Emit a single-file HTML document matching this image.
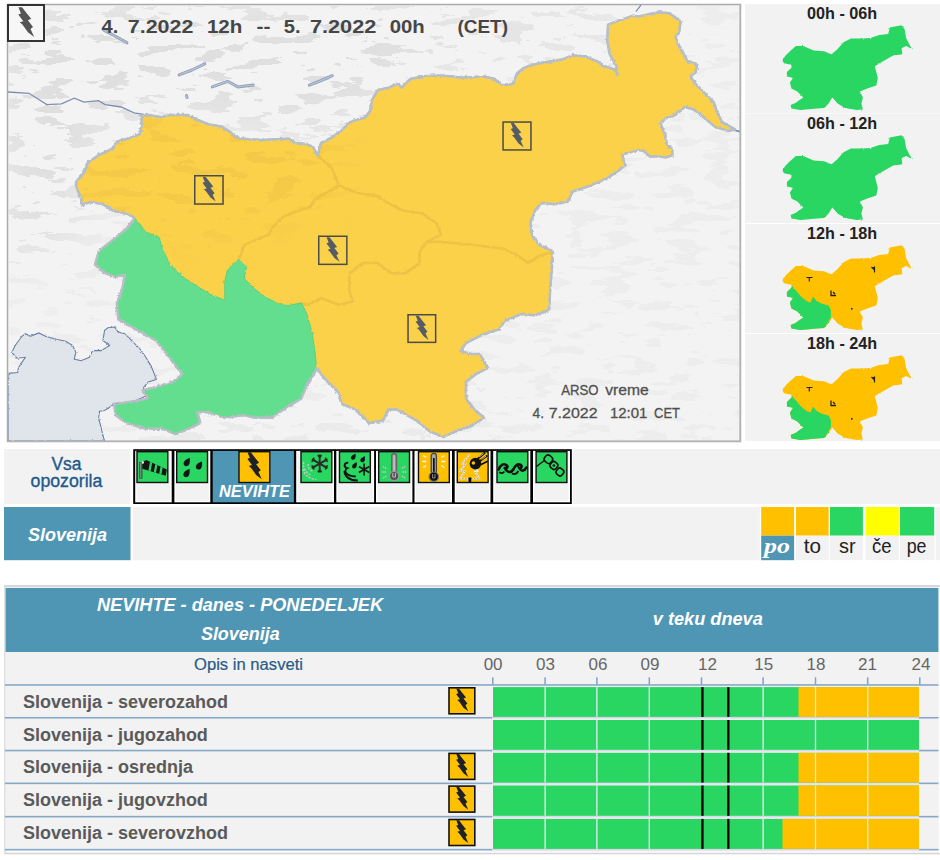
<!DOCTYPE html>
<html><head><meta charset="utf-8">
<style>
*{margin:0;padding:0}
html,body{width:940px;height:860px;background:#fff;overflow:hidden;font-family:"Liberation Sans",sans-serif}
svg{position:absolute;left:0;top:0;display:block}
</style></head><body>
<svg width="940" height="860" viewBox="0 0 940 860">
<defs><clipPath id="mc"><rect x="8" y="5" width="732" height="436"/></clipPath></defs>
<filter id="relief" x="0" y="0" width="940" height="450" filterUnits="userSpaceOnUse" color-interpolation-filters="sRGB">
  <feTurbulence type="fractalNoise" baseFrequency="0.03 0.09" numOctaves="4" seed="11" result="n"/>
  <feColorMatrix in="n" type="matrix" values="0 0 0 0 0.875  0 0 0 0 0.875  0 0 0 0 0.875  3.2 0 0 0 -1.4"/>
  <feComponentTransfer><feFuncA type="discrete" tableValues="0 1"/></feComponentTransfer>
</filter>
<filter id="mblur" x="-50%" y="-50%" width="200%" height="200%"><feGaussianBlur stdDeviation="22"/></filter>
<mask id="rm" maskUnits="userSpaceOnUse" x="0" y="0" width="940" height="450">
 <rect x="0" y="0" width="940" height="450" fill="#4a4a4a"/>
 <g filter="url(#mblur)">
  <polygon points="0,0 430,0 445,60 330,135 150,112 90,150 70,235 0,250" fill="#fff"/>
  <polygon points="430,0 620,0 610,55 450,78" fill="#bbb"/>
  <polygon points="150,425 480,425 480,450 150,450" fill="#999"/>
  <polygon points="0,250 70,235 60,330 0,330" fill="#333"/>
 </g>
</mask>
<mask id="rm2" maskUnits="userSpaceOnUse" x="0" y="0" width="940" height="450">
 <g filter="url(#mblur)"><polygon points="60,100 340,100 340,200 240,240 60,220" fill="#fff"/></g>
</mask>
<filter id="relief2" x="0" y="0" width="940" height="450" filterUnits="userSpaceOnUse" color-interpolation-filters="sRGB">
  <feTurbulence type="fractalNoise" baseFrequency="0.03 0.09" numOctaves="4" seed="5" result="n"/>
  <feColorMatrix in="n" type="matrix" values="0 0 0 0 0.90  0 0 0 0 0.74  0 0 0 0 0.25  3.2 0 0 0 -1.45"/>
  <feComponentTransfer><feFuncA type="discrete" tableValues="0 0.35"/></feComponentTransfer>
</filter>
<rect x="7.5" y="4.5" width="733" height="437" fill="#f3f3f3" stroke="#ababab" stroke-width="1.5"/>
<g clip-path="url(#mc)"><g mask="url(#rm)"><rect x="8" y="5" width="732" height="436" filter="url(#relief)"/></g></g>
<g clip-path="url(#mc)">
<filter id="jag2" x="0" y="0" width="940" height="450" filterUnits="userSpaceOnUse"><feTurbulence type="fractalNoise" baseFrequency="0.5" numOctaves="1" seed="8" result="t"/><feDisplacementMap in="SourceGraphic" in2="t" scale="2.5" xChannelSelector="R" yChannelSelector="G"/></filter>
<polygon points="8,373.4 17.7,372.5 18.5,367.5 25.3,357.3 16.9,358.2 11.8,352.3 15.2,345.5 21.9,336.3 25.3,333.7 30.4,336.3 38.8,332.9 45.5,336.3 54,338.8 65.8,341.3 72.5,345.5 75.9,352.3 74.2,359 81,360.7 89.4,357.3 92.7,350.6 101.2,350.6 109.6,345.5 102.9,340.5 104.6,330.4 107.9,327.8 114.7,327 118,332 124.8,333.7 133.2,342.2 140,349 145,356 151,365.7 156.5,379.4 148.3,382 143,388 146,396 134.6,401 114.2,404 104.6,410.5 99.5,411.3 98.6,418 101.2,428.2 102.9,435 104.6,441 8,441" fill="#dfe5ea" stroke="#6e80a0" stroke-width="1.1" filter="url(#jag2)"/>
<polyline points="8,92 29,93.3 46.8,104.6 61.4,103.8 74.3,98.2 84,102.2 98.6,100.6 105,104.6 121.2,107 134,112.8 143.8,114.4" fill="none" stroke="#7f90ae" stroke-width="1.3"/>
<polyline points="636,11.5 641,5" fill="none" stroke="#7080a8" stroke-width="1.2"/>
<polyline points="733,130 740,131.5" fill="none" stroke="#6a7aa0" stroke-width="1.5"/>
<polyline points="103.8,30.2 115,36 126.8,42.5" fill="none" stroke="#8d9db6" stroke-width="3" stroke-linecap="round" stroke-linejoin="round"/>
<polyline points="103.8,30.2 115,36 126.8,42.5" fill="none" stroke="#b4c2d4" stroke-width="1.4" stroke-linecap="round" stroke-linejoin="round"/>
<polyline points="179.1,74.9 192,70 204.7,63.9" fill="none" stroke="#8d9db6" stroke-width="3" stroke-linecap="round" stroke-linejoin="round"/>
<polyline points="179.1,74.9 192,70 204.7,63.9" fill="none" stroke="#b4c2d4" stroke-width="1.4" stroke-linecap="round" stroke-linejoin="round"/>
<polyline points="212.3,86.9 227.6,81.3 237.9,86.9 253.2,85.1" fill="none" stroke="#8d9db6" stroke-width="3" stroke-linecap="round" stroke-linejoin="round"/>
<polyline points="212.3,86.9 227.6,81.3 237.9,86.9 253.2,85.1" fill="none" stroke="#b4c2d4" stroke-width="1.4" stroke-linecap="round" stroke-linejoin="round"/>
<polyline points="309.3,85.1 320,81 332.3,75.7" fill="none" stroke="#8d9db6" stroke-width="3" stroke-linecap="round" stroke-linejoin="round"/>
<polyline points="309.3,85.1 320,81 332.3,75.7" fill="none" stroke="#b4c2d4" stroke-width="1.4" stroke-linecap="round" stroke-linejoin="round"/>
<polyline points="186.5,95.5 187,97.5" fill="none" stroke="#8d9db6" stroke-width="3" stroke-linecap="round" stroke-linejoin="round"/>
<polyline points="186.5,95.5 187,97.5" fill="none" stroke="#b4c2d4" stroke-width="1.4" stroke-linecap="round" stroke-linejoin="round"/>
<filter id="jag" x="0" y="0" width="940" height="450" filterUnits="userSpaceOnUse"><feTurbulence type="fractalNoise" baseFrequency="0.4" numOctaves="1" seed="3" result="t"/><feDisplacementMap in="SourceGraphic" in2="t" scale="3.2" xChannelSelector="R" yChannelSelector="G"/></filter>
<g filter="url(#jag)">
<polygon points="141,116 149,115 160,117 170.6,115 187.7,115 198,120 209,124.5 221.7,126.6 230,132 236.6,138 247,139 261,140 289,138.7 295,143 306,144 313,147 317.7,155.7 321,143 331.5,137.7 342,130 350.6,121.7 365.5,117.4 370,111 372,100 378,90 389,87.7 397.4,83.4 401.7,87.7 410,79 425,76 442.8,75.5 462,77.7 483,76.6 494,78.7 502,85 513,84 517,73.4 523.6,68 536.4,63.8 549,61.7 562,59.6 572.6,55.3 585,56.4 598,61.7 603,66 614.7,69.2 617.2,74.2 616.4,66 609.8,54.4 607.3,41.2 608,24.7 616.4,21.4 626.3,18.1 632.9,15.7 639.5,16.5 649.4,14 659.2,12.4 669.1,13.2 674,16.5 680.7,21.4 679,33 675.7,36.3 677.4,42.9 682.3,51.1 687.3,61 697.2,64.3 695.5,72.5 690.6,75.8 695.5,84 705.4,94 713.7,102.2 717,112.1 722,122 735,129.4 728.5,131 715.3,127 705.4,118.7 700,113.8 693.6,109.6 685.1,106.4 680.9,110.6 673.4,116 666,118.1 660.6,123.4 661.7,126.6 664.9,134 667,144.7 672.3,149 672.3,155.3 666,157.4 659.6,156.4 650,156.4 643.6,151 639.4,150 632,152.1 622.3,154.3 623.4,159.6 625.5,164.9 619.1,170.2 612.8,174.5 606.4,178.7 588,186.4 572.8,191.5 567.6,201.7 554.9,204.2 542,203 535.7,209.4 530.6,222 532,235 539.6,245 552.3,251 552,268 550.5,285 549,309.8 535,315.3 521.3,314 504.7,320.9 499.2,329.2 482.6,334.7 466,343 460.4,351.3 471.5,354 479.8,354 488,368 477,373.4 466,381.7 466,398.3 474.3,409.4 484,417.7 471.5,426 455,431.5 443.8,437 430,431.5 416.2,420.4 396.8,409.4 388.5,409.4 383,420.4 369,423.2 363.6,417.7 355.3,409.4 341.5,403.8 338.7,392.8 325,379 316.6,368 315,372 306.8,384.9 301.3,398.5 287.7,406.7 271.3,417.7 254.9,417.7 244,415 224.8,417.7 208.4,412.2 197.5,412.2 200.2,423.1 189.3,428.6 175.6,434 162,428.6 145.6,428.6 126.4,423.1 115.5,415 114.2,404 134.6,401.3 148.3,398.5 142.8,390.3 153.8,387.6 172.9,382 182.5,374 175.6,365.7 167.4,354.8 156.5,341 142.8,333 127.8,324.8 118.3,319.3 116.9,302.9 122.3,289.2 125,274.2 115.5,277 104.6,272.8 95,264.6 99,251 112.8,240 126.4,229 134.6,218.2 132,216 124,213 113,210.6 102.5,204 90,202 82,205 81,198 77,189 76,182 84.5,172 87.7,162.8 99,155 112,149 117.4,141.5 130,138 140,134 142,123" fill="#fbd14a" stroke="#bac0c8" stroke-width="2.5" stroke-linejoin="round"/>
<polyline points="317.7,155.7 331.8,168 338.8,185.6 356.4,192.7 377.5,196.2 388,203.2 402,210.2 423,213.7 437.2,224.3 440.7,234.8 426.6,241.8 419.6,252.4 419.6,262.9 405.6,273.4 391.5,273.4 377.5,262.9 363.4,262.9 349.4,273.4 349.4,291 352.9,301.5 338.8,305 321.3,298 307.2,305 301.3,302.9" fill="none" stroke="#eec344" stroke-width="2.6" stroke-linejoin="round"/>
<polyline points="338.8,185.6 314.3,199.7 310.8,206.7 289.7,213.7 282.7,217.2 272.1,227.8 268.6,234.8 251,241.8 244,245.3 240.5,255.9 238.5,259.2" fill="none" stroke="#eec344" stroke-width="2.6" stroke-linejoin="round"/>
<polyline points="426.6,241.8 440.7,241.8 475.8,245.3 503.9,248.8 517.9,255.9 528.5,262.9 539,255.9 552.3,252" fill="none" stroke="#eec344" stroke-width="2.6" stroke-linejoin="round"/>
<clipPath id="cc"><polygon points="141,116 149,115 160,117 170.6,115 187.7,115 198,120 209,124.5 221.7,126.6 230,132 236.6,138 247,139 261,140 289,138.7 295,143 306,144 313,147 317.7,155.7 321,143 331.5,137.7 342,130 350.6,121.7 365.5,117.4 370,111 372,100 378,90 389,87.7 397.4,83.4 401.7,87.7 410,79 425,76 442.8,75.5 462,77.7 483,76.6 494,78.7 502,85 513,84 517,73.4 523.6,68 536.4,63.8 549,61.7 562,59.6 572.6,55.3 585,56.4 598,61.7 603,66 614.7,69.2 617.2,74.2 616.4,66 609.8,54.4 607.3,41.2 608,24.7 616.4,21.4 626.3,18.1 632.9,15.7 639.5,16.5 649.4,14 659.2,12.4 669.1,13.2 674,16.5 680.7,21.4 679,33 675.7,36.3 677.4,42.9 682.3,51.1 687.3,61 697.2,64.3 695.5,72.5 690.6,75.8 695.5,84 705.4,94 713.7,102.2 717,112.1 722,122 735,129.4 728.5,131 715.3,127 705.4,118.7 700,113.8 693.6,109.6 685.1,106.4 680.9,110.6 673.4,116 666,118.1 660.6,123.4 661.7,126.6 664.9,134 667,144.7 672.3,149 672.3,155.3 666,157.4 659.6,156.4 650,156.4 643.6,151 639.4,150 632,152.1 622.3,154.3 623.4,159.6 625.5,164.9 619.1,170.2 612.8,174.5 606.4,178.7 588,186.4 572.8,191.5 567.6,201.7 554.9,204.2 542,203 535.7,209.4 530.6,222 532,235 539.6,245 552.3,251 552,268 550.5,285 549,309.8 535,315.3 521.3,314 504.7,320.9 499.2,329.2 482.6,334.7 466,343 460.4,351.3 471.5,354 479.8,354 488,368 477,373.4 466,381.7 466,398.3 474.3,409.4 484,417.7 471.5,426 455,431.5 443.8,437 430,431.5 416.2,420.4 396.8,409.4 388.5,409.4 383,420.4 369,423.2 363.6,417.7 355.3,409.4 341.5,403.8 338.7,392.8 325,379 316.6,368 315,372 306.8,384.9 301.3,398.5 287.7,406.7 271.3,417.7 254.9,417.7 244,415 224.8,417.7 208.4,412.2 197.5,412.2 200.2,423.1 189.3,428.6 175.6,434 162,428.6 145.6,428.6 126.4,423.1 115.5,415 114.2,404 134.6,401.3 148.3,398.5 142.8,390.3 153.8,387.6 172.9,382 182.5,374 175.6,365.7 167.4,354.8 156.5,341 142.8,333 127.8,324.8 118.3,319.3 116.9,302.9 122.3,289.2 125,274.2 115.5,277 104.6,272.8 95,264.6 99,251 112.8,240 126.4,229 134.6,218.2 132,216 124,213 113,210.6 102.5,204 90,202 82,205 81,198 77,189 76,182 84.5,172 87.7,162.8 99,155 112,149 117.4,141.5 130,138 140,134 142,123"/></clipPath>
<g clip-path="url(#cc)" mask="url(#rm2)"><rect x="8" y="5" width="732" height="436" filter="url(#relief2)"/></g>
<polygon points="134.6,218.2 137.4,221 145.6,231.9 159.2,237.3 162,248.3 170.2,264.6 181.1,275.6 197.5,286.5 211.1,294.7 224.8,300.2 224.8,281 227.5,270.1 238.5,259.2 246.7,267.4 244,278.3 254.9,289.2 265.8,297.4 276.7,302.9 287.7,305.6 301.3,302.9 306.8,313.8 312.2,333 315,352 316.6,368 315,372 306.8,384.9 301.3,398.5 287.7,406.7 271.3,417.7 254.9,417.7 244,415 224.8,417.7 208.4,412.2 197.5,412.2 200.2,423.1 189.3,428.6 175.6,434 162,428.6 145.6,428.6 126.4,423.1 115.5,415 114.2,404 134.6,401.3 148.3,398.5 142.8,390.3 153.8,387.6 172.9,382 182.5,374 175.6,365.7 167.4,354.8 156.5,341 142.8,333 127.8,324.8 118.3,319.3 116.9,302.9 122.3,289.2 125,274.2 115.5,277 104.6,272.8 95,264.6 99,251 112.8,240 126.4,229 134.6,218.2" fill="#64de8e"/>
<polyline points="134.6,218.2 137.4,221 145.6,231.9 159.2,237.3 162,248.3 170.2,264.6 181.1,275.6 197.5,286.5 211.1,294.7 224.8,300.2 224.8,281 227.5,270.1 238.5,259.2 246.7,267.4 244,278.3 254.9,289.2 265.8,297.4 276.7,302.9 287.7,305.6 301.3,302.9 306.8,313.8 312.2,333 315,352 316.6,368" fill="none" stroke="#5ccf82" stroke-width="1"/>
<polygon points="141,116 149,115 160,117 170.6,115 187.7,115 198,120 209,124.5 221.7,126.6 230,132 236.6,138 247,139 261,140 289,138.7 295,143 306,144 313,147 317.7,155.7 321,143 331.5,137.7 342,130 350.6,121.7 365.5,117.4 370,111 372,100 378,90 389,87.7 397.4,83.4 401.7,87.7 410,79 425,76 442.8,75.5 462,77.7 483,76.6 494,78.7 502,85 513,84 517,73.4 523.6,68 536.4,63.8 549,61.7 562,59.6 572.6,55.3 585,56.4 598,61.7 603,66 614.7,69.2 617.2,74.2 616.4,66 609.8,54.4 607.3,41.2 608,24.7 616.4,21.4 626.3,18.1 632.9,15.7 639.5,16.5 649.4,14 659.2,12.4 669.1,13.2 674,16.5 680.7,21.4 679,33 675.7,36.3 677.4,42.9 682.3,51.1 687.3,61 697.2,64.3 695.5,72.5 690.6,75.8 695.5,84 705.4,94 713.7,102.2 717,112.1 722,122 735,129.4 728.5,131 715.3,127 705.4,118.7 700,113.8 693.6,109.6 685.1,106.4 680.9,110.6 673.4,116 666,118.1 660.6,123.4 661.7,126.6 664.9,134 667,144.7 672.3,149 672.3,155.3 666,157.4 659.6,156.4 650,156.4 643.6,151 639.4,150 632,152.1 622.3,154.3 623.4,159.6 625.5,164.9 619.1,170.2 612.8,174.5 606.4,178.7 588,186.4 572.8,191.5 567.6,201.7 554.9,204.2 542,203 535.7,209.4 530.6,222 532,235 539.6,245 552.3,251 552,268 550.5,285 549,309.8 535,315.3 521.3,314 504.7,320.9 499.2,329.2 482.6,334.7 466,343 460.4,351.3 471.5,354 479.8,354 488,368 477,373.4 466,381.7 466,398.3 474.3,409.4 484,417.7 471.5,426 455,431.5 443.8,437 430,431.5 416.2,420.4 396.8,409.4 388.5,409.4 383,420.4 369,423.2 363.6,417.7 355.3,409.4 341.5,403.8 338.7,392.8 325,379 316.6,368 315,372 306.8,384.9 301.3,398.5 287.7,406.7 271.3,417.7 254.9,417.7 244,415 224.8,417.7 208.4,412.2 197.5,412.2 200.2,423.1 189.3,428.6 175.6,434 162,428.6 145.6,428.6 126.4,423.1 115.5,415 114.2,404 134.6,401.3 148.3,398.5 142.8,390.3 153.8,387.6 172.9,382 182.5,374 175.6,365.7 167.4,354.8 156.5,341 142.8,333 127.8,324.8 118.3,319.3 116.9,302.9 122.3,289.2 125,274.2 115.5,277 104.6,272.8 95,264.6 99,251 112.8,240 126.4,229 134.6,218.2 132,216 124,213 113,210.6 102.5,204 90,202 82,205 81,198 77,189 76,182 84.5,172 87.7,162.8 99,155 112,149 117.4,141.5 130,138 140,134 142,123" fill="none" stroke="#b8bec6" stroke-width="2.2" stroke-linejoin="round"/>
</g>
<rect x="194.75" y="175.75" width="28.3" height="28.3" fill="none" stroke="#4b4b4b" stroke-width="1.5"/>
<path transform="translate(194,175) scale(0.2980)" d="M29,6 L39,6 L51.3,22.1 L64.5,38.5 L55.3,42.5 L69.5,61 L62.5,66.5 L72.7,89 L55.3,75.8 L40,54.5 L32.7,48 L42.5,45 L32.7,32 L28.5,26.2 L36,23.5 Z" fill="#565c64"/>
<rect x="503.05" y="122.05" width="27.9" height="27.9" fill="none" stroke="#4b4b4b" stroke-width="1.5"/>
<path transform="translate(502.3,121.3) scale(0.2940)" d="M29,6 L39,6 L51.3,22.1 L64.5,38.5 L55.3,42.5 L69.5,61 L62.5,66.5 L72.7,89 L55.3,75.8 L40,54.5 L32.7,48 L42.5,45 L32.7,32 L28.5,26.2 L36,23.5 Z" fill="#565c64"/>
<rect x="318.75" y="236.25" width="28.1" height="28.1" fill="none" stroke="#4b4b4b" stroke-width="1.5"/>
<path transform="translate(318,235.5) scale(0.2960)" d="M29,6 L39,6 L51.3,22.1 L64.5,38.5 L55.3,42.5 L69.5,61 L62.5,66.5 L72.7,89 L55.3,75.8 L40,54.5 L32.7,48 L42.5,45 L32.7,32 L28.5,26.2 L36,23.5 Z" fill="#565c64"/>
<rect x="408.05" y="314.75" width="27.6" height="27.6" fill="none" stroke="#4b4b4b" stroke-width="1.5"/>
<path transform="translate(407.3,314) scale(0.2910)" d="M29,6 L39,6 L51.3,22.1 L64.5,38.5 L55.3,42.5 L69.5,61 L62.5,66.5 L72.7,89 L55.3,75.8 L40,54.5 L32.7,48 L42.5,45 L32.7,32 L28.5,26.2 L36,23.5 Z" fill="#565c64"/>
</g>
<path d="M740.2,4.5 V441.3 H7.5" fill="none" stroke="#b4b4b4" stroke-width="1.5"/>
<rect x="8" y="5" width="36" height="36" fill="#f7f7f7" stroke="#333" stroke-width="2"/>
<path transform="translate(8,5) scale(0.3600)" d="M29,6 L39,6 L51.3,22.1 L64.5,38.5 L55.3,42.5 L69.5,61 L62.5,66.5 L72.7,89 L55.3,75.8 L40,54.5 L32.7,48 L42.5,45 L32.7,32 L28.5,26.2 L36,23.5 Z" fill="#555"/>
<text x="101.6" y="32.6" font-family="Liberation Sans" font-size="19" font-weight="bold" font-style="normal" fill="#464646" textLength="16.8" lengthAdjust="spacingAndGlyphs">4.</text>
<text x="127.8" y="32.6" font-family="Liberation Sans" font-size="19" font-weight="bold" font-style="normal" fill="#464646" textLength="65.5" lengthAdjust="spacingAndGlyphs">7.2022</text>
<text x="206.9" y="32.6" font-family="Liberation Sans" font-size="19" font-weight="bold" font-style="normal" fill="#464646" textLength="35.5" lengthAdjust="spacingAndGlyphs">12h</text>
<text x="256.5" y="32.6" font-family="Liberation Sans" font-size="19" font-weight="bold" font-style="normal" fill="#464646" textLength="14.0" lengthAdjust="spacingAndGlyphs">--</text>
<text x="283.8" y="32.6" font-family="Liberation Sans" font-size="19" font-weight="bold" font-style="normal" fill="#464646" textLength="16.8" lengthAdjust="spacingAndGlyphs">5.</text>
<text x="309.9" y="32.6" font-family="Liberation Sans" font-size="19" font-weight="bold" font-style="normal" fill="#464646" textLength="66.5" lengthAdjust="spacingAndGlyphs">7.2022</text>
<text x="389.7" y="32.6" font-family="Liberation Sans" font-size="19" font-weight="bold" font-style="normal" fill="#464646" textLength="35.1" lengthAdjust="spacingAndGlyphs">00h</text>
<text x="457.5" y="32.6" font-family="Liberation Sans" font-size="19" font-weight="bold" font-style="normal" fill="#464646" textLength="50.5" lengthAdjust="spacingAndGlyphs">(CET)</text>
<text stroke="#505050" stroke-width="0.3" x="561.2" y="395.2" font-family="Liberation Sans" font-size="15" font-weight="normal" font-style="normal" fill="#505050" textLength="37.3" lengthAdjust="spacingAndGlyphs">ARSO</text>
<text stroke="#505050" stroke-width="0.3" x="605.2" y="395.2" font-family="Liberation Sans" font-size="15" font-weight="normal" font-style="normal" fill="#505050" textLength="43.5" lengthAdjust="spacingAndGlyphs">vreme</text>
<text stroke="#505050" stroke-width="0.3" x="532.5" y="417.6" font-family="Liberation Sans" font-size="15" font-weight="normal" font-style="normal" fill="#505050" textLength="11.5" lengthAdjust="spacingAndGlyphs">4.</text>
<text stroke="#505050" stroke-width="0.3" x="548.7" y="417.6" font-family="Liberation Sans" font-size="15" font-weight="normal" font-style="normal" fill="#505050" textLength="48.9" lengthAdjust="spacingAndGlyphs">7.2022</text>
<text stroke="#505050" stroke-width="0.3" x="610" y="417.6" font-family="Liberation Sans" font-size="15" font-weight="normal" font-style="normal" fill="#505050" textLength="37.4" lengthAdjust="spacingAndGlyphs">12:01</text>
<text stroke="#505050" stroke-width="0.3" x="654.1" y="417.6" font-family="Liberation Sans" font-size="15" font-weight="normal" font-style="normal" fill="#505050" textLength="25.9" lengthAdjust="spacingAndGlyphs">CET</text>
<filter id="jag3" x="740" y="0" width="200" height="450" filterUnits="userSpaceOnUse"><feTurbulence type="fractalNoise" baseFrequency="0.6" numOctaves="1" seed="4" result="t"/><feDisplacementMap in="SourceGraphic" in2="t" scale="2.2" xChannelSelector="R" yChannelSelector="G"/></filter>
<rect x="745" y="4" width="195" height="109.5" fill="#f2f2f2"/>
<g transform="translate(0,0)">
<text x="807" y="18.7" font-family="Liberation Sans" font-size="16" font-weight="bold" font-style="normal" fill="#222" textLength="70.2" lengthAdjust="spacingAndGlyphs">00h - 06h</text>
<g filter="url(#jag3)">
<polygon points="782.4,60.2 785.4,55.7 789.9,51.3 795.9,46 803.3,46 813.7,50.5 824.1,51.3 831.6,54.3 837.6,49 843.5,42.3 851,38.6 861.4,38.6 870.3,37.9 879.3,34.9 888.2,34.1 889.7,27.4 901.6,25.2 904.6,28.9 906.1,37.9 909,43.8 912,49 906.1,46 901.6,48.3 902.3,54.3 892.7,55.7 882.2,61.7 874.8,66.2 876.3,72.1 877.8,78.1 876.3,85.5 867.3,88.5 859.9,91.5 862.9,97.4 861.4,103.4 862.9,109.4 856.9,110.1 845,107.9 837.6,103.4 832.3,97.4 828.6,103.4 824.1,107.9 816.7,108.6 806.3,109.4 800.3,110.1 791.4,108.6 790.6,104.9 795.9,102.7 798.8,100.4 803.3,97.4 797.3,91.5 791.4,88.5 789.9,82.6 792.9,78.1 786.9,76.6 786.9,72.1 791.4,67.7 791.4,64.7 783.9,63.2" fill="#2ad662"/>
</g>
</g>
<rect x="745" y="114" width="195" height="109" fill="#f2f2f2"/>
<g transform="translate(0,110)">
<text x="807" y="18.7" font-family="Liberation Sans" font-size="16" font-weight="bold" font-style="normal" fill="#222" textLength="70.2" lengthAdjust="spacingAndGlyphs">06h - 12h</text>
<g filter="url(#jag3)">
<polygon points="782.4,60.2 785.4,55.7 789.9,51.3 795.9,46 803.3,46 813.7,50.5 824.1,51.3 831.6,54.3 837.6,49 843.5,42.3 851,38.6 861.4,38.6 870.3,37.9 879.3,34.9 888.2,34.1 889.7,27.4 901.6,25.2 904.6,28.9 906.1,37.9 909,43.8 912,49 906.1,46 901.6,48.3 902.3,54.3 892.7,55.7 882.2,61.7 874.8,66.2 876.3,72.1 877.8,78.1 876.3,85.5 867.3,88.5 859.9,91.5 862.9,97.4 861.4,103.4 862.9,109.4 856.9,110.1 845,107.9 837.6,103.4 832.3,97.4 828.6,103.4 824.1,107.9 816.7,108.6 806.3,109.4 800.3,110.1 791.4,108.6 790.6,104.9 795.9,102.7 798.8,100.4 803.3,97.4 797.3,91.5 791.4,88.5 789.9,82.6 792.9,78.1 786.9,76.6 786.9,72.1 791.4,67.7 791.4,64.7 783.9,63.2" fill="#2ad662"/>
</g>
</g>
<rect x="745" y="224" width="195" height="109" fill="#f2f2f2"/>
<g transform="translate(0,220)">
<text x="807" y="18.7" font-family="Liberation Sans" font-size="16" font-weight="bold" font-style="normal" fill="#222" textLength="70.2" lengthAdjust="spacingAndGlyphs">12h - 18h</text>
<g filter="url(#jag3)">
<polygon points="782.4,60.2 785.4,55.7 789.9,51.3 795.9,46 803.3,46 813.7,50.5 824.1,51.3 831.6,54.3 837.6,49 843.5,42.3 851,38.6 861.4,38.6 870.3,37.9 879.3,34.9 888.2,34.1 889.7,27.4 901.6,25.2 904.6,28.9 906.1,37.9 909,43.8 912,49 906.1,46 901.6,48.3 902.3,54.3 892.7,55.7 882.2,61.7 874.8,66.2 876.3,72.1 877.8,78.1 876.3,85.5 867.3,88.5 859.9,91.5 862.9,97.4 861.4,103.4 862.9,109.4 856.9,110.1 845,107.9 837.6,103.4 832.3,97.4 828.6,103.4 824.1,107.9 816.7,108.6 806.3,109.4 800.3,110.1 791.4,108.6 790.6,104.9 795.9,102.7 798.8,100.4 803.3,97.4 797.3,91.5 791.4,88.5 789.9,82.6 792.9,78.1 786.9,76.6 786.9,72.1 791.4,67.7 791.4,64.7 783.9,63.2" fill="#ffc000"/>
<polygon points="792,66 801.1,76.6 806.3,81.1 810.7,82.6 813,76.6 816.7,81.1 822.7,84 828.6,85.5 830.9,90 830.9,97.5 827.1,103.4 824.1,107.9 816.7,108.6 806.3,109.4 800.3,110.1 791.4,108.6 790.6,104.9 795.9,102.7 798.8,100.4 803.3,97.4 797.3,91.5 791.4,88.5 789.9,82.6 792.9,78.1 786.9,76.6 786.9,72.1 791.4,67.7" fill="#2ad662"/>
</g>
<path d="M806.5,57.5 h6 M809.3,57.5 v4" stroke="#222" stroke-width="1.2" fill="none"/>
<path d="M831,70.5 v5 h5 M833,72 l2,2" stroke="#222" stroke-width="1.3" fill="none"/>
<path d="M871.5,47 l2,2 v-2 M874.5,46.5 v6" stroke="#222" stroke-width="1.2" fill="none"/>
<rect x="851" y="88" width="1.6" height="1.6" fill="#222"/>
</g>
<rect x="745" y="334" width="195" height="107" fill="#f2f2f2"/>
<g transform="translate(0,330)">
<text x="807" y="18.7" font-family="Liberation Sans" font-size="16" font-weight="bold" font-style="normal" fill="#222" textLength="70.2" lengthAdjust="spacingAndGlyphs">18h - 24h</text>
<g filter="url(#jag3)">
<polygon points="782.4,60.2 785.4,55.7 789.9,51.3 795.9,46 803.3,46 813.7,50.5 824.1,51.3 831.6,54.3 837.6,49 843.5,42.3 851,38.6 861.4,38.6 870.3,37.9 879.3,34.9 888.2,34.1 889.7,27.4 901.6,25.2 904.6,28.9 906.1,37.9 909,43.8 912,49 906.1,46 901.6,48.3 902.3,54.3 892.7,55.7 882.2,61.7 874.8,66.2 876.3,72.1 877.8,78.1 876.3,85.5 867.3,88.5 859.9,91.5 862.9,97.4 861.4,103.4 862.9,109.4 856.9,110.1 845,107.9 837.6,103.4 832.3,97.4 828.6,103.4 824.1,107.9 816.7,108.6 806.3,109.4 800.3,110.1 791.4,108.6 790.6,104.9 795.9,102.7 798.8,100.4 803.3,97.4 797.3,91.5 791.4,88.5 789.9,82.6 792.9,78.1 786.9,76.6 786.9,72.1 791.4,67.7 791.4,64.7 783.9,63.2" fill="#ffc000"/>
<polygon points="792,66 801.1,76.6 806.3,81.1 810.7,82.6 813,76.6 816.7,81.1 822.7,84 828.6,85.5 830.9,90 830.9,97.5 827.1,103.4 824.1,107.9 816.7,108.6 806.3,109.4 800.3,110.1 791.4,108.6 790.6,104.9 795.9,102.7 798.8,100.4 803.3,97.4 797.3,91.5 791.4,88.5 789.9,82.6 792.9,78.1 786.9,76.6 786.9,72.1 791.4,67.7" fill="#2ad662"/>
</g>
<path d="M806.5,57.5 h6 M809.3,57.5 v4" stroke="#222" stroke-width="1.2" fill="none"/>
<path d="M831,70.5 v5 h5 M833,72 l2,2" stroke="#222" stroke-width="1.3" fill="none"/>
<path d="M871.5,47 l2,2 v-2 M874.5,46.5 v6" stroke="#222" stroke-width="1.2" fill="none"/>
<rect x="851" y="88" width="1.6" height="1.6" fill="#222"/>
</g>
<rect x="4" y="449" width="126.4" height="55" fill="#f2f2f2"/>
<rect x="573" y="449" width="367" height="55" fill="#f2f2f2"/>
<text stroke="#22598a" stroke-width="0.35" x="51.4" y="469.7" font-family="Liberation Sans" font-size="18" font-weight="normal" font-style="normal" fill="#22598a" textLength="30.1" lengthAdjust="spacingAndGlyphs">Vsa</text>
<text stroke="#22598a" stroke-width="0.35" x="30.6" y="487.2" font-family="Liberation Sans" font-size="18" font-weight="normal" font-style="normal" fill="#22598a" textLength="71.8" lengthAdjust="spacingAndGlyphs">opozorila</text>
<rect x="133.2" y="449.2" width="438.6" height="54.8" fill="#000"/>
<rect x="135.2" y="450.9" width="36.5" height="51.4" fill="#fff"/>
<rect x="136.6" y="452.3" width="33.7" height="48.6" fill="#f2f2f2"/>
<rect x="174.4" y="450.9" width="35.9" height="51.4" fill="#fff"/>
<rect x="175.8" y="452.3" width="33.1" height="48.6" fill="#f2f2f2"/>
<rect x="212.7" y="450.9" width="81.2" height="51.4" fill="#4f96b4"/>
<rect x="296.2" y="450.9" width="37.8" height="51.4" fill="#fff"/>
<rect x="297.59999999999997" y="452.3" width="35.0" height="48.6" fill="#f2f2f2"/>
<rect x="336.3" y="450.9" width="37.8" height="51.4" fill="#fff"/>
<rect x="337.7" y="452.3" width="35.0" height="48.6" fill="#f2f2f2"/>
<rect x="376" y="450.9" width="36.4" height="51.4" fill="#fff"/>
<rect x="377.4" y="452.3" width="33.6" height="48.6" fill="#f2f2f2"/>
<rect x="414.5" y="450.9" width="37.5" height="51.4" fill="#fff"/>
<rect x="415.9" y="452.3" width="34.7" height="48.6" fill="#f2f2f2"/>
<rect x="454.7" y="450.9" width="35.8" height="51.4" fill="#fff"/>
<rect x="456.09999999999997" y="452.3" width="33.0" height="48.6" fill="#f2f2f2"/>
<rect x="493.2" y="450.9" width="37.1" height="51.4" fill="#fff"/>
<rect x="494.59999999999997" y="452.3" width="34.3" height="48.6" fill="#f2f2f2"/>
<rect x="533" y="450.9" width="37.0" height="51.4" fill="#fff"/>
<rect x="534.4" y="452.3" width="34.2" height="48.6" fill="#f2f2f2"/>
<rect x="137.0" y="451.7" width="30.8" height="30.8" fill="#2ad662" stroke="#111" stroke-width="1.4"/>
<rect x="176.7" y="451.7" width="30.8" height="30.8" fill="#2ad662" stroke="#111" stroke-width="1.4"/>
<rect x="239.0" y="451.7" width="30.8" height="30.8" fill="#ffc000" stroke="#111" stroke-width="1.4"/>
<rect x="301.0" y="451.7" width="30.8" height="30.8" fill="#2ad662" stroke="#111" stroke-width="1.4"/>
<rect x="339.5" y="451.7" width="30.8" height="30.8" fill="#2ad662" stroke="#111" stroke-width="1.4"/>
<rect x="378.7" y="451.7" width="30.8" height="30.8" fill="#2ad662" stroke="#111" stroke-width="1.4"/>
<rect x="418.5" y="451.7" width="30.8" height="30.8" fill="#ffc000" stroke="#111" stroke-width="1.4"/>
<rect x="457.3" y="451.7" width="30.8" height="30.8" fill="#ffc000" stroke="#111" stroke-width="1.4"/>
<rect x="497.0" y="451.7" width="30.8" height="30.8" fill="#2ad662" stroke="#111" stroke-width="1.4"/>
<rect x="536.1" y="451.7" width="30.8" height="30.8" fill="#2ad662" stroke="#111" stroke-width="1.4"/>
<clipPath id="sock"><path d="M6,11 L10,9 L30.5,18.5 L29.5,24.8 L6,17.8 Z"/></clipPath>
<g transform="translate(136.3,451)"><path d="M4.6,11 V27.5" stroke="#1a1a1a" stroke-width="2.8"/><path d="M4.6,11.5 V27" stroke="#d8d8d8" stroke-width="0.9"/><path d="M6,11 L10,9 L30.5,18.5 L29.5,24.8 L6,17.8 Z" fill="#151515"/><g clip-path="url(#sock)" stroke="#2ad662" stroke-width="2.3"><path d="M15.2,9 L12.8,22 M20.6,10.6 L18.2,23.6 M26,12.2 L23.6,25.2"/></g><circle cx="6.5" cy="11.5" r="1.2" fill="#eee"/></g>
<g transform="translate(176,451)"><path transform="translate(10.6,11.3)" d="M3.2,-4.2 C1,-3.8 -3,-1.5 -3,1.2 C-3,3.4 -1.2,4.2 0.6,3.8 C2.8,3.2 3.6,0.5 3.2,-4.2 Z" fill="#151515"/><path transform="translate(22.8,14.6)" d="M3.2,-4.2 C1,-3.8 -3,-1.5 -3,1.2 C-3,3.4 -1.2,4.2 0.6,3.8 C2.8,3.2 3.6,0.5 3.2,-4.2 Z" fill="#151515"/><path transform="translate(10.4,22.3)" d="M3.2,-4.2 C1,-3.8 -3,-1.5 -3,1.2 C-3,3.4 -1.2,4.2 0.6,3.8 C2.8,3.2 3.6,0.5 3.2,-4.2 Z" fill="#151515"/></g>
<path transform="translate(238.1,450.3) scale(0.3260)" d="M29,6 L39,6 L51.3,22.1 L64.5,38.5 L55.3,42.5 L69.5,61 L62.5,66.5 L72.7,89 L55.3,75.8 L40,54.5 L32.7,48 L42.5,45 L32.7,32 L28.5,26.2 L36,23.5 Z" fill="#1e2226"/>
<text x="219" y="497.4" font-family="Liberation Sans" font-size="16" font-weight="bold" font-style="italic" fill="#fff" textLength="71" lengthAdjust="spacingAndGlyphs">NEVIHTE</text>
<g transform="translate(300.3,451)"><g stroke="#2b2b2b" stroke-width="1.9" fill="none" transform="translate(19.4,12.6)"><path d="M0,-9 V9 M-7.8,-4.5 L7.8,4.5 M-7.8,4.5 L7.8,-4.5"/><path d="M-2,-8.5 L0,-6.5 L2,-8.5 M-2,8.5 L0,6.5 L2,8.5 M-8.3,-2 L-5.6,-3.2 L-6.1,-6 M8.3,2 L5.6,3.2 L6.1,6 M-8.3,2 L-5.6,3.2 L-6.1,6 M8.3,-2 L5.6,-3.2 L6.1,-6" stroke-width="1.5"/></g><path d="M3.5,11 C2,16 5,21 10,24 M2.5,18 C4,24 9,28 16,28.5 M8,13 C7,16 9,19 12,20" fill="none" stroke="#c9c9c9" stroke-width="1.4" stroke-dasharray="2.2,1.2"/></g>
<g transform="translate(338.8,451)"><g fill="#151515"><path transform="translate(14.4,5.8) scale(0.75)" d="M3.2,-4.2 C1,-3.8 -3,-1.5 -3,1.2 C-3,3.4 -1.2,4.2 0.6,3.8 C2.8,3.2 3.6,0.5 3.2,-4.2 Z"/><path transform="translate(23.8,8.3) scale(0.75)" d="M3.2,-4.2 C1,-3.8 -3,-1.5 -3,1.2 C-3,3.4 -1.2,4.2 0.6,3.8 C2.8,3.2 3.6,0.5 3.2,-4.2 Z"/><path transform="translate(15.6,14.5) scale(0.75)" d="M3.2,-4.2 C1,-3.8 -3,-1.5 -3,1.2 C-3,3.4 -1.2,4.2 0.6,3.8 C2.8,3.2 3.6,0.5 3.2,-4.2 Z"/></g><path d="M9.5,11.5 C5,12 4.5,16 8.5,17.2 C5,19 5.5,25 17,25.5 M5.5,20 C6.5,27 12,29.5 19,29.5" fill="none" stroke="#151515" stroke-width="1.9"/><g stroke="#151515" stroke-width="1.6" transform="translate(25.3,18.5)"><path d="M0,-6 V6 M-5.2,-3 L5.2,3 M-5.2,3 L5.2,-3"/></g></g>
<g transform="translate(378,451)"><rect x="13.6" y="2.6" width="5" height="19.5" rx="2.4" fill="#8a8a8a" stroke="#666" stroke-width="1.2"/><rect x="15.1" y="4" width="2" height="17" rx="1" fill="#bdbdbd"/><circle cx="16.1" cy="25" r="4.6" fill="#555" stroke="#999" stroke-width="1.2"/><path d="M14.8,22 V26 H17.4 V22" fill="none" stroke="#bbb" stroke-width="1"/><path d="M5,15.5 L8.5,17.5 M4,21 H8.5 M5,27 L8.5,25 M27.2,15.5 L23.7,17.5 M28.2,21 H23.7 M27.2,27 L23.7,25" stroke="#c8c8c8" stroke-width="1.3" stroke-dasharray="1.5,0.8"/></g>
<g transform="translate(417.8,451)"><rect x="13.4" y="2.4" width="5.2" height="20" rx="2.5" fill="#a8a8a8" stroke="#444" stroke-width="1.3"/><rect x="15.2" y="7" width="1.7" height="16" fill="#111"/><circle cx="16" cy="25.7" r="4.7" fill="#111" stroke="#777" stroke-width="1.2"/><path d="M14.8,23 V27 H17.2 V23" fill="none" stroke="#999" stroke-width="0.9"/><path d="M5.5,4.5 L8.5,6.5 M4.5,10.5 H8.5 M5.5,16.5 L8.5,14.5 M26.5,4.5 L23.5,6.5 M27.5,10.5 H23.5 M26.5,16.5 L23.5,14.5" stroke="#f4f4f4" stroke-width="1.4"/></g>
<g transform="translate(456.6,451)"><path d="M13,3.5 L5,13 L9,13 L3.5,20 L8.5,20 L3,27.5 L12,27.5 L12,30 L14.5,30 L14.5,27.5 L23,27.5 L18,20.5 L21.5,20.5 L17.5,14.5" fill="none" stroke="#e8e8e8" stroke-width="1.7" stroke-linejoin="round"/><path d="M13,3.5 L5,13 L9,13 L3.5,20 L8.5,20 L3,27.5 L23,27.5 L18,20.5" fill="none" stroke="#777" stroke-width="0.6" stroke-dasharray="1.5,1.5"/><rect x="11.8" y="26.5" width="3" height="4.5" fill="#111"/><circle cx="18.8" cy="12.6" r="5.8" fill="#111"/><circle cx="16.8" cy="12" r="1.8" fill="#ffc000"/><path d="M21.5,7.5 L28,2 M23.5,10 L30,5 M24.5,13.5 L30.5,10.5" stroke="#111" stroke-width="1.9" stroke-linecap="round"/><path d="M22.5,6 L27,2.5 M25,8.5 L29.5,5" stroke="#eee" stroke-width="0.8"/></g>
<g transform="translate(496.3,451)"><path d="M2.5,18.5 C4,13.5 8,12 10.5,14.5 C12,16 10,18.5 8.5,17 M8.5,17 C11,22 15,22 17,18.5 C18.5,15 21,12 24.5,14 C26,15 25,18 23,17 C25,21 28.5,20 30,16.5" fill="none" stroke="#111" stroke-width="2.6" stroke-linecap="round"/><path d="M3,21 C5,23 7,22 8,20.5 M15.5,22.5 C19,24 21,22 22,20" fill="none" stroke="#111" stroke-width="1.8"/></g>
<g transform="translate(535.4,451)"><path d="M1,15.5 L9,9.5" stroke="#111" stroke-width="1.5"/><g fill="none" stroke="#111" stroke-width="1.6"><rect x="9" y="4.5" width="8" height="7.5" rx="3" transform="rotate(40 13 8.2)"/><rect x="15" y="11" width="7" height="7" rx="2.5" transform="rotate(40 18.5 14.5)"/><rect x="21" y="17.5" width="7" height="7" rx="2.5" transform="rotate(40 24.5 21)"/></g><circle cx="18.5" cy="14.5" r="1.3" fill="#111"/></g>
<rect x="133.2" y="507" width="626.6" height="53.3" fill="#f2f2f2"/>
<rect x="761.2" y="507" width="178.8" height="53.3" fill="#fdfdfd"/>
<rect x="4" y="507" width="126.5" height="53.2" fill="#4f96b4"/>
<text x="27.9" y="541.3" font-family="Liberation Sans" font-size="18" font-weight="bold" font-style="italic" fill="#fff" textLength="79" lengthAdjust="spacingAndGlyphs">Slovenija</text>
<rect x="761.2" y="507" width="32.9" height="28.7" fill="#ffc000"/>
<rect x="761.2" y="535.7" width="32.9" height="24.5" fill="#4f96b4"/>
<rect x="796" y="507" width="32.6" height="28.7" fill="#ffc000"/>
<rect x="796" y="535.7" width="32.6" height="24.5" fill="#f2f2f2"/>
<rect x="829.9" y="507" width="33.0" height="28.7" fill="#2ad662"/>
<rect x="829.9" y="535.7" width="33.0" height="24.5" fill="#f2f2f2"/>
<rect x="865.7" y="507" width="33.1" height="28.7" fill="#ffff00"/>
<rect x="865.7" y="535.7" width="33.1" height="24.5" fill="#f2f2f2"/>
<rect x="900" y="507" width="34.2" height="28.7" fill="#2ad662"/>
<rect x="900" y="535.7" width="34.2" height="24.5" fill="#f2f2f2"/>
<rect x="935.7" y="507" width="4.3" height="53.2" fill="#f2f2f2"/>
<text x="764.1" y="553" font-family="Liberation Serif" font-size="20" font-weight="bold" font-style="italic" fill="#fff" textLength="25.9" lengthAdjust="spacingAndGlyphs">po</text>
<text x="803.8" y="553.2" font-family="Liberation Sans" font-size="20" font-weight="normal" font-style="normal" fill="#222" textLength="17.2" lengthAdjust="spacingAndGlyphs">to</text>
<text x="839" y="553.2" font-family="Liberation Sans" font-size="20" font-weight="normal" font-style="normal" fill="#222" textLength="16.6" lengthAdjust="spacingAndGlyphs">sr</text>
<text x="872.1" y="553.2" font-family="Liberation Sans" font-size="20" font-weight="normal" font-style="normal" fill="#222" textLength="19.6" lengthAdjust="spacingAndGlyphs">če</text>
<text x="906.7" y="553.2" font-family="Liberation Sans" font-size="20" font-weight="normal" font-style="normal" fill="#222" textLength="19.8" lengthAdjust="spacingAndGlyphs">pe</text>
<rect x="4.2" y="585" width="935.8" height="269.3" fill="#d6d6d6"/>
<rect x="5.5" y="586.9" width="934.5" height="265.9" fill="#fcfcfc"/>
<rect x="5.6" y="652" width="933" height="198.4" fill="#f2f2f2"/>
<rect x="5.6" y="587.9" width="932.8" height="64.1" fill="#4f96b4"/>
<text x="97" y="610.5" font-family="Liberation Sans" font-size="18" font-weight="bold" font-style="italic" fill="#fff" textLength="286" lengthAdjust="spacingAndGlyphs">NEVIHTE - danes - PONEDELJEK</text>
<text x="200.9" y="640" font-family="Liberation Sans" font-size="18" font-weight="bold" font-style="italic" fill="#fff" textLength="78.9" lengthAdjust="spacingAndGlyphs">Slovenija</text>
<text x="652.8" y="624.5" font-family="Liberation Sans" font-size="18" font-weight="bold" font-style="italic" fill="#fff" textLength="110" lengthAdjust="spacingAndGlyphs">v teku dneva</text>
<text stroke="#2a5b85" stroke-width="0.2" x="194" y="670" font-family="Liberation Sans" font-size="16" font-weight="normal" font-style="normal" fill="#2a5b85" textLength="109" lengthAdjust="spacingAndGlyphs">Opis in nasveti</text>
<text x="493.1" y="670" font-family="Liberation Sans" font-size="17" fill="#666" text-anchor="middle">00</text>
<rect x="492.05" y="677.3" width="1.5" height="7.5" fill="#7fa3c3"/>
<text x="545.4" y="670" font-family="Liberation Sans" font-size="17" fill="#666" text-anchor="middle">03</text>
<rect x="544.35" y="677.3" width="1.5" height="7.5" fill="#7fa3c3"/>
<text x="597.9" y="670" font-family="Liberation Sans" font-size="17" fill="#666" text-anchor="middle">06</text>
<rect x="596.15" y="677.3" width="1.5" height="7.5" fill="#7fa3c3"/>
<text x="650" y="670" font-family="Liberation Sans" font-size="17" fill="#666" text-anchor="middle">09</text>
<rect x="648.55" y="677.3" width="1.5" height="7.5" fill="#7fa3c3"/>
<text x="707.4" y="670" font-family="Liberation Sans" font-size="17" fill="#666" text-anchor="middle">12</text>
<rect x="700.75" y="677.3" width="1.5" height="7.5" fill="#7fa3c3"/>
<text x="763.7" y="670" font-family="Liberation Sans" font-size="17" fill="#666" text-anchor="middle">15</text>
<rect x="762.35" y="677.3" width="1.5" height="7.5" fill="#7fa3c3"/>
<text x="816" y="670" font-family="Liberation Sans" font-size="17" fill="#666" text-anchor="middle">18</text>
<rect x="814.75" y="677.3" width="1.5" height="7.5" fill="#7fa3c3"/>
<text x="867.5" y="670" font-family="Liberation Sans" font-size="17" fill="#666" text-anchor="middle">21</text>
<rect x="866.95" y="677.3" width="1.5" height="7.5" fill="#7fa3c3"/>
<text x="921" y="670" font-family="Liberation Sans" font-size="17" fill="#666" text-anchor="middle">24</text>
<rect x="919.05" y="677.3" width="1.5" height="7.5" fill="#7fa3c3"/>
<rect x="5" y="684.15" width="933.5" height="1.6" fill="#86a9c7"/>
<rect x="5" y="716.95" width="487.5" height="1.6" fill="#86a9c7"/>
<rect x="919" y="716.95" width="19.5" height="1.6" fill="#86a9c7"/>
<rect x="492.5" y="716.8000000000001" width="426.5" height="2.6" fill="#ebe4f2"/>
<rect x="492.5" y="716.8000000000001" width="426.5" height="0.7" fill="#b3c3da"/>
<rect x="5" y="749.75" width="487.5" height="1.6" fill="#86a9c7"/>
<rect x="919" y="749.75" width="19.5" height="1.6" fill="#86a9c7"/>
<rect x="492.5" y="749.6" width="426.5" height="2.6" fill="#ebe4f2"/>
<rect x="492.5" y="749.6" width="426.5" height="0.7" fill="#b3c3da"/>
<rect x="5" y="782.55" width="487.5" height="1.6" fill="#86a9c7"/>
<rect x="919" y="782.55" width="19.5" height="1.6" fill="#86a9c7"/>
<rect x="492.5" y="782.4" width="426.5" height="2.6" fill="#ebe4f2"/>
<rect x="492.5" y="782.4" width="426.5" height="0.7" fill="#b3c3da"/>
<rect x="5" y="815.85" width="487.5" height="1.6" fill="#86a9c7"/>
<rect x="919" y="815.85" width="19.5" height="1.6" fill="#86a9c7"/>
<rect x="492.5" y="815.7" width="426.5" height="2.6" fill="#ebe4f2"/>
<rect x="492.5" y="815.7" width="426.5" height="0.7" fill="#b3c3da"/>
<rect x="5" y="848.85" width="487.5" height="1.6" fill="#86a9c7"/>
<rect x="919" y="848.85" width="19.5" height="1.6" fill="#86a9c7"/>
<rect x="492.5" y="848.7" width="426.5" height="2.6" fill="#ebe4f2"/>
<rect x="492.5" y="848.7" width="426.5" height="0.7" fill="#b3c3da"/>
<g transform="translate(0,707.9) scale(1,1.07) translate(0,-707.9)"><text x="23" y="707.9" font-family="Liberation Sans" font-size="18" font-weight="bold" font-style="normal" fill="#5a5a5a">Slovenija - severozahod</text></g>
<rect x="493" y="687.1" width="426" height="29.8" fill="#2ad662"/>
<rect x="798.5" y="687.1" width="120.5" height="29.8" fill="#ffc000"/>
<rect x="544.45" y="687.1" width="1.3" height="29.8" fill="#e2eaf2"/>
<rect x="596.25" y="687.1" width="1.3" height="29.8" fill="#e2eaf2"/>
<rect x="648.65" y="687.1" width="1.3" height="29.8" fill="#e2eaf2"/>
<rect x="762.45" y="687.1" width="1.3" height="29.8" fill="#e2eaf2"/>
<rect x="814.85" y="687.1" width="1.3" height="29.8" fill="#e2eaf2"/>
<rect x="867.0500000000001" y="687.1" width="1.3" height="29.8" fill="#e2eaf2"/>
<rect x="701.3" y="687.1" width="2.3" height="29.8" fill="#000"/>
<rect x="727.2" y="687.1" width="2.3" height="29.8" fill="#000"/>
<rect x="449" y="687.8" width="25.8" height="26" fill="#ffc000" stroke="#111" stroke-width="1.6"/>
<path transform="translate(448.3,686.85) scale(0.2750)" d="M29,6 L39,6 L51.3,22.1 L64.5,38.5 L55.3,42.5 L69.5,61 L62.5,66.5 L72.7,89 L55.3,75.8 L40,54.5 L32.7,48 L42.5,45 L32.7,32 L28.5,26.2 L36,23.5 Z" fill="#1e2226"/>
<g transform="translate(0,740.6999999999999) scale(1,1.07) translate(0,-740.6999999999999)"><text x="23" y="740.6999999999999" font-family="Liberation Sans" font-size="18" font-weight="bold" font-style="normal" fill="#5a5a5a">Slovenija - jugozahod</text></g>
<rect x="493" y="720.0" width="426" height="29.8" fill="#2ad662"/>
<rect x="544.45" y="720.0" width="1.3" height="29.8" fill="#e2eaf2"/>
<rect x="596.25" y="720.0" width="1.3" height="29.8" fill="#e2eaf2"/>
<rect x="648.65" y="720.0" width="1.3" height="29.8" fill="#e2eaf2"/>
<rect x="762.45" y="720.0" width="1.3" height="29.8" fill="#e2eaf2"/>
<rect x="814.85" y="720.0" width="1.3" height="29.8" fill="#e2eaf2"/>
<rect x="867.0500000000001" y="720.0" width="1.3" height="29.8" fill="#e2eaf2"/>
<rect x="701.3" y="720.0" width="2.3" height="29.8" fill="#000"/>
<rect x="727.2" y="720.0" width="2.3" height="29.8" fill="#000"/>
<g transform="translate(0,773.5) scale(1,1.07) translate(0,-773.5)"><text x="23" y="773.5" font-family="Liberation Sans" font-size="18" font-weight="bold" font-style="normal" fill="#5a5a5a">Slovenija - osrednja</text></g>
<rect x="493" y="752.8" width="426" height="29.8" fill="#2ad662"/>
<rect x="798.5" y="752.8" width="120.5" height="29.8" fill="#ffc000"/>
<rect x="544.45" y="752.8" width="1.3" height="29.8" fill="#e2eaf2"/>
<rect x="596.25" y="752.8" width="1.3" height="29.8" fill="#e2eaf2"/>
<rect x="648.65" y="752.8" width="1.3" height="29.8" fill="#e2eaf2"/>
<rect x="762.45" y="752.8" width="1.3" height="29.8" fill="#e2eaf2"/>
<rect x="814.85" y="752.8" width="1.3" height="29.8" fill="#e2eaf2"/>
<rect x="867.0500000000001" y="752.8" width="1.3" height="29.8" fill="#e2eaf2"/>
<rect x="701.3" y="752.8" width="2.3" height="29.8" fill="#000"/>
<rect x="727.2" y="752.8" width="2.3" height="29.8" fill="#000"/>
<rect x="449" y="753.4" width="25.8" height="26" fill="#ffc000" stroke="#111" stroke-width="1.6"/>
<path transform="translate(448.3,752.45) scale(0.2750)" d="M29,6 L39,6 L51.3,22.1 L64.5,38.5 L55.3,42.5 L69.5,61 L62.5,66.5 L72.7,89 L55.3,75.8 L40,54.5 L32.7,48 L42.5,45 L32.7,32 L28.5,26.2 L36,23.5 Z" fill="#1e2226"/>
<g transform="translate(0,806.3) scale(1,1.07) translate(0,-806.3)"><text x="23" y="806.3" font-family="Liberation Sans" font-size="18" font-weight="bold" font-style="normal" fill="#5a5a5a">Slovenija - jugovzhod</text></g>
<rect x="493" y="785.5" width="426" height="30.3" fill="#2ad662"/>
<rect x="798.5" y="785.5" width="120.5" height="30.3" fill="#ffc000"/>
<rect x="544.45" y="785.5" width="1.3" height="30.3" fill="#e2eaf2"/>
<rect x="596.25" y="785.5" width="1.3" height="30.3" fill="#e2eaf2"/>
<rect x="648.65" y="785.5" width="1.3" height="30.3" fill="#e2eaf2"/>
<rect x="762.45" y="785.5" width="1.3" height="30.3" fill="#e2eaf2"/>
<rect x="814.85" y="785.5" width="1.3" height="30.3" fill="#e2eaf2"/>
<rect x="867.0500000000001" y="785.5" width="1.3" height="30.3" fill="#e2eaf2"/>
<rect x="701.3" y="785.5" width="2.3" height="30.3" fill="#000"/>
<rect x="727.2" y="785.5" width="2.3" height="30.3" fill="#000"/>
<rect x="449" y="786.1" width="25.8" height="26" fill="#ffc000" stroke="#111" stroke-width="1.6"/>
<path transform="translate(448.3,785.25) scale(0.2750)" d="M29,6 L39,6 L51.3,22.1 L64.5,38.5 L55.3,42.5 L69.5,61 L62.5,66.5 L72.7,89 L55.3,75.8 L40,54.5 L32.7,48 L42.5,45 L32.7,32 L28.5,26.2 L36,23.5 Z" fill="#1e2226"/>
<g transform="translate(0,839.0999999999999) scale(1,1.07) translate(0,-839.0999999999999)"><text x="23" y="839.0999999999999" font-family="Liberation Sans" font-size="18" font-weight="bold" font-style="normal" fill="#5a5a5a">Slovenija - severovzhod</text></g>
<rect x="493" y="818.9" width="426" height="30.0" fill="#2ad662"/>
<rect x="782.5" y="818.9" width="136.5" height="30.0" fill="#ffc000"/>
<rect x="544.45" y="818.9" width="1.3" height="30.0" fill="#e2eaf2"/>
<rect x="596.25" y="818.9" width="1.3" height="30.0" fill="#e2eaf2"/>
<rect x="648.65" y="818.9" width="1.3" height="30.0" fill="#e2eaf2"/>
<rect x="762.45" y="818.9" width="1.3" height="30.0" fill="#e2eaf2"/>
<rect x="814.85" y="818.9" width="1.3" height="30.0" fill="#e2eaf2"/>
<rect x="867.0500000000001" y="818.9" width="1.3" height="30.0" fill="#e2eaf2"/>
<rect x="701.3" y="818.9" width="2.3" height="30.0" fill="#000"/>
<rect x="727.2" y="818.9" width="2.3" height="30.0" fill="#000"/>
<rect x="449" y="819.5" width="25.8" height="26" fill="#ffc000" stroke="#111" stroke-width="1.6"/>
<path transform="translate(448.3,818.5500000000001) scale(0.2750)" d="M29,6 L39,6 L51.3,22.1 L64.5,38.5 L55.3,42.5 L69.5,61 L62.5,66.5 L72.7,89 L55.3,75.8 L40,54.5 L32.7,48 L42.5,45 L32.7,32 L28.5,26.2 L36,23.5 Z" fill="#1e2226"/>
</svg>
</body></html>
